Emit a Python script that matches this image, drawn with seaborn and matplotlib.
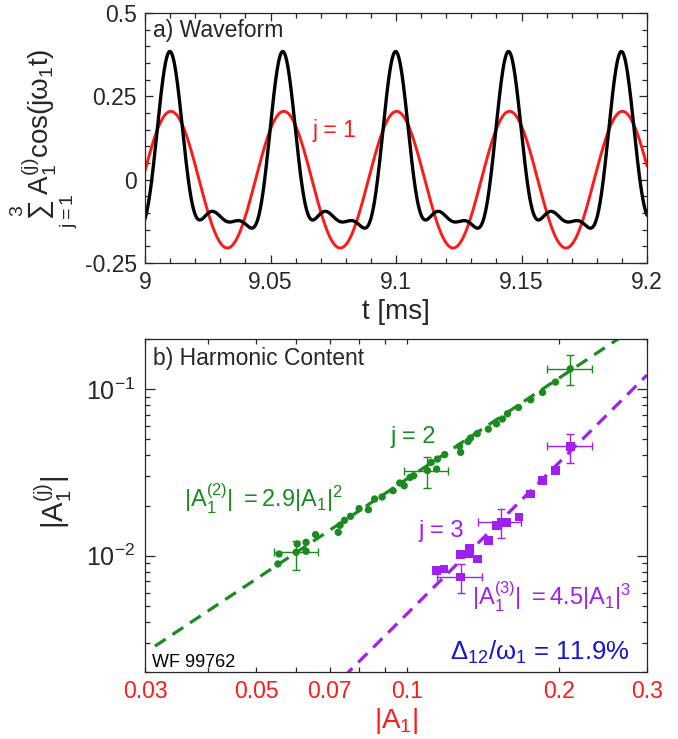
import numpy as np
import pandas as pd
import matplotlib
matplotlib.use("Agg")
import matplotlib.pyplot as plt
import seaborn as sns
from matplotlib.ticker import (FixedLocator, FixedFormatter, NullFormatter,
                               MultipleLocator, LogLocator)

# ---------------- data: panel a (harmonic content of the waveform) ----------------
harmonic_j = [1, 2, 3]
harmonic_amp = [0.205, 0.130, 0.050]
harmonic_phase_deg = [0.0, 9.0, 9.0]
wave_period_ms = 0.044975
wave_peak_t_ms = 9.0103
t_range_ms = [9.0, 9.2]

# ---------------- data: panel b ----------------
a1_j2 = [0.0552, 0.0555, 0.0600, 0.0603, 0.0628, 0.0628, 0.0656, 0.0728, 0.0734,
         0.0749, 0.0770, 0.0801, 0.0836, 0.0860, 0.0890, 0.0936, 0.0965, 0.0985,
         0.1012, 0.1029, 0.1096, 0.1115, 0.1143, 0.1147, 0.1186, 0.1270, 0.1276,
         0.1320, 0.1335, 0.1377, 0.1449, 0.1504, 0.1545, 0.1582, 0.1664, 0.1760,
         0.1858, 0.1972, 0.2110]
amp_j2 = [0.00891, 0.01023, 0.01047, 0.01175, 0.01202, 0.01062, 0.01337, 0.0138,
          0.01521, 0.01629, 0.01722, 0.01914, 0.01888, 0.02188, 0.0225, 0.02455,
          0.02729, 0.0263, 0.0295, 0.0302, 0.0324, 0.0363, 0.0331, 0.0380, 0.0404,
          0.0453, 0.0417, 0.0485, 0.0508, 0.0540, 0.0575, 0.0619, 0.0661, 0.0711,
          0.0776, 0.0863, 0.0955, 0.1102, 0.1324]
a1_j3 = [0.1143, 0.1182, 0.1276, 0.1276, 0.1331, 0.1331, 0.1377, 0.1449, 0.1504,
         0.1537, 0.1576, 0.1667, 0.1760, 0.1858, 0.1972, 0.2110]
amp_j3 = [0.00817, 0.00832, 0.00745, 0.01014, 0.01028, 0.01112, 0.00955, 0.0123,
          0.01514, 0.01585, 0.01585, 0.01706, 0.02344, 0.0282, 0.0325, 0.0453]

# error bars (center, x-range, y-range)
err2_x = [0.0600, 0.1096, 0.2110]
err2_y = [0.01047, 0.0324, 0.1324]
err2_xlo = [0.0542, 0.0985, 0.190]
err2_xhi = [0.0662, 0.1206, 0.2326]
err2_ylo = [0.00824, 0.0255, 0.1062]
err2_yhi = [0.0122, 0.0389, 0.1607]
err3_x = [0.1276, 0.1537, 0.2110]
err3_y = [0.00745, 0.01585, 0.0453]
err3_xlo = [0.1147, 0.1382, 0.190]
err3_xhi = [0.1407, 0.1687, 0.2326]
err3_ylo = [0.00597, 0.01276, 0.036]
err3_yhi = [0.00895, 0.01905, 0.054]

fit_coef = [2.9, 4.5]
fit_power = [2, 3]
fit_range_j2 = [0.0314, 0.265]
fit_range_j3 = [0.0745, 0.30]

x_ticks_b = [0.03, 0.05, 0.07, 0.1, 0.2, 0.3]
x_ticklabels_b = ['0.03', '0.05', '0.07', '0.1', '0.2', '0.3']
x_minor_b = [0.04, 0.06, 0.08, 0.09]
x_ticks_a = [9.0, 9.05, 9.1, 9.15, 9.2]
x_ticklabels_a = ['9', '9.05', '9.1', '9.15', '9.2']
y_ticks_a = [-0.25, 0.0, 0.25, 0.5]
y_ticklabels_a = ['-0.25', '0', '0.25', '0.5']

# ---------------- style ----------------
sns.set_style("ticks")
plt.rcParams['font.family'] = ['Liberation Sans', 'DejaVu Sans']
plt.rcParams['mathtext.fontset'] = 'custom'
plt.rcParams['mathtext.rm'] = 'Liberation Sans'
plt.rcParams['mathtext.it'] = 'Liberation Sans'
plt.rcParams['mathtext.bf'] = 'Liberation Sans:bold'
plt.rcParams['axes.linewidth'] = 0.9
for ax_ in ('x', 'y'):
    plt.rcParams[f'{ax_}tick.direction'] = 'in'
    plt.rcParams[f'{ax_}tick.major.width'] = 0.9
    plt.rcParams[f'{ax_}tick.minor.width'] = 0.9
    plt.rcParams[f'{ax_}tick.major.size'] = 6
    plt.rcParams[f'{ax_}tick.minor.size'] = 3.5
    plt.rcParams[f'{ax_}tick.labelsize'] = 16.5
plt.rcParams['xtick.top'] = True
plt.rcParams['ytick.right'] = True

GREEN = '#1a8c1f'
PURPLE = '#a020f0'
RED = '#ff1a1a'
BLUE = '#1414d2'

fig = plt.figure(figsize=(6.78, 7.39), dpi=100)
ax1 = fig.add_axes([145/678, 1-263/739, 502/678, 250/739])
ax2 = fig.add_axes([145/678, 1-672/739, 502/678, 333/739])

# ---------------- panel a ----------------
t = np.linspace(t_range_ms[0], t_range_ms[1], 2001)
theta = 2*np.pi*(t - wave_peak_t_ms)/wave_period_ms
total = np.zeros_like(t)
for j, a, p in zip(harmonic_j, harmonic_amp, harmonic_phase_deg):
    total += a*np.cos(j*theta + np.deg2rad(p))
first = harmonic_amp[0]*np.cos(harmonic_j[0]*theta + np.deg2rad(harmonic_phase_deg[0]))
wave = pd.DataFrame({'t': t, 'sum': total, 'j1': first})

sns.lineplot(data=wave, x='t', y='j1', color=RED, lw=2.1, ax=ax1, sort=False)
sns.lineplot(data=wave, x='t', y='sum', color='black', lw=2.4, ax=ax1, sort=False)
ax1.set_xlim(*t_range_ms)
ax1.set_ylim(-0.25, 0.5)
ax1.xaxis.set_major_locator(FixedLocator(x_ticks_a))
ax1.xaxis.set_major_formatter(FixedFormatter(x_ticklabels_a))
ax1.xaxis.set_minor_locator(MultipleLocator(0.01))
ax1.yaxis.set_major_locator(FixedLocator(y_ticks_a))
ax1.yaxis.set_major_formatter(FixedFormatter(y_ticklabels_a))
ax1.yaxis.set_minor_locator(MultipleLocator(0.05))
ax1.tick_params(axis='x', pad=6)
ax1.tick_params(axis='y', pad=6)
ax1.set_xlabel('t [ms]', fontsize=20, va='center')
ax1.xaxis.set_label_coords(0.5, -0.196)
ax1.set_ylabel(r'$\sum_{j=1}^{3}\mathrm{A}_1^{(j)}\mathrm{cos}(j\omega_1\mathrm{t})$',
               fontsize=20, va='center')
ax1.yaxis.set_label_coords(-0.2, 0.5)
ax1.text(0.016, 0.904, 'a) Waveform', transform=ax1.transAxes, fontsize=16.5,
         ha='left', va='baseline')
ax1.text(0.333, 0.504, 'j = 1', transform=ax1.transAxes, fontsize=16.5,
         ha='left', va='baseline', color=RED)

# ---------------- panel b ----------------
ax2.set_xscale('log')
ax2.set_yscale('log')
ax2.set_xlim(0.03, 0.3)
ax2.set_ylim(0.002, 0.2)

fx2 = np.geomspace(fit_range_j2[0], fit_range_j2[1], 200)
fx3 = np.geomspace(fit_range_j3[0], fit_range_j3[1], 200)
fit2 = pd.DataFrame({'a1': fx2, 'a': fit_coef[0]*fx2**fit_power[0]})
fit3 = pd.DataFrame({'a1': fx3, 'a': fit_coef[1]*fx3**fit_power[1]})
sns.lineplot(data=fit2, x='a1', y='a', color=GREEN, lw=2.3,
             linestyle=(0, (4, 2.6)), ax=ax2, zorder=1)
sns.lineplot(data=fit3, x='a1', y='a', color=PURPLE, lw=2.3,
             linestyle=(0, (4, 2.6)), ax=ax2, zorder=1)

ax2.errorbar(err2_x, err2_y,
             xerr=[np.subtract(err2_x, err2_xlo), np.subtract(err2_xhi, err2_x)],
             yerr=[np.subtract(err2_y, err2_ylo), np.subtract(err2_yhi, err2_y)],
             fmt='none', ecolor=GREEN, elinewidth=1.0, capsize=3, capthick=1.0, zorder=2)
ax2.errorbar(err3_x, err3_y,
             xerr=[np.subtract(err3_x, err3_xlo), np.subtract(err3_xhi, err3_x)],
             yerr=[np.subtract(err3_y, err3_ylo), np.subtract(err3_yhi, err3_y)],
             fmt='none', ecolor=PURPLE, elinewidth=1.0, capsize=3, capthick=1.0, zorder=2)

pts2 = pd.DataFrame({'a1': a1_j2, 'a': amp_j2})
pts3 = pd.DataFrame({'a1': a1_j3, 'a': amp_j3})
sns.scatterplot(data=pts2, x='a1', y='a', marker='o', s=28, color=GREEN,
                edgecolor='none', ax=ax2, zorder=3)
sns.scatterplot(data=pts3, x='a1', y='a', marker='s', s=40, color=PURPLE,
                edgecolor='none', ax=ax2, zorder=3)

ax2.xaxis.set_major_locator(FixedLocator(x_ticks_b))
ax2.xaxis.set_major_formatter(FixedFormatter(x_ticklabels_b))
ax2.xaxis.set_minor_locator(FixedLocator(x_minor_b))
ax2.xaxis.set_minor_formatter(NullFormatter())
ax2.yaxis.set_major_locator(LogLocator(base=10))
ax2.yaxis.set_minor_locator(LogLocator(base=10, subs=np.arange(2, 10)))
ax2.yaxis.set_minor_formatter(NullFormatter())
ax2.tick_params(axis='x', which='major', size=3.5, labelcolor=RED, pad=6)
ax2.tick_params(axis='y', which='major', size=7, pad=7, labelsize=18)
ax2.set_xlabel(r'$|\mathrm{A}_1|$', fontsize=20, color=RED, va='center')
ax2.xaxis.set_label_coords(0.5, -0.148)
ax2.set_ylabel(r'$|\mathrm{A}_1^{(j)}|$', fontsize=21, va='center')
ax2.yaxis.set_label_coords(-0.183, 0.51)

ax2.text(0.016, 0.94, 'b) Harmonic Content', transform=ax2.transAxes, fontsize=16.5,
         ha='left', va='center')
ax2.text(0.535, 0.706, 'j = 2', transform=ax2.transAxes, fontsize=17,
         ha='center', va='center', color=GREEN)
ax2.text(0.078, 0.495, r'$|\mathrm{A}_1^{(2)}|\ = 2.9|\mathrm{A}_1|^2$',
         transform=ax2.transAxes, fontsize=17, ha='left', va='baseline', color=GREEN)
ax2.text(0.544, 0.405, 'j = 3', transform=ax2.transAxes, fontsize=17,
         ha='left', va='baseline', color=PURPLE)
ax2.text(0.651, 0.201, r'$|\mathrm{A}_1^{(3)}|\ = 4.5|\mathrm{A}_1|^3$',
         transform=ax2.transAxes, fontsize=17, ha='left', va='baseline', color=PURPLE)
ax2.text(0.966, 0.036, r'$\Delta_{12}/\omega_1$ = 11.9%', transform=ax2.transAxes,
         fontsize=18.5, ha='right', va='baseline', color=BLUE)
ax2.text(0.014, 0.015, 'WF 99762', transform=ax2.transAxes, fontsize=13,
         ha='left', va='baseline', color='black')

fig.savefig('out.png', dpi=100)
